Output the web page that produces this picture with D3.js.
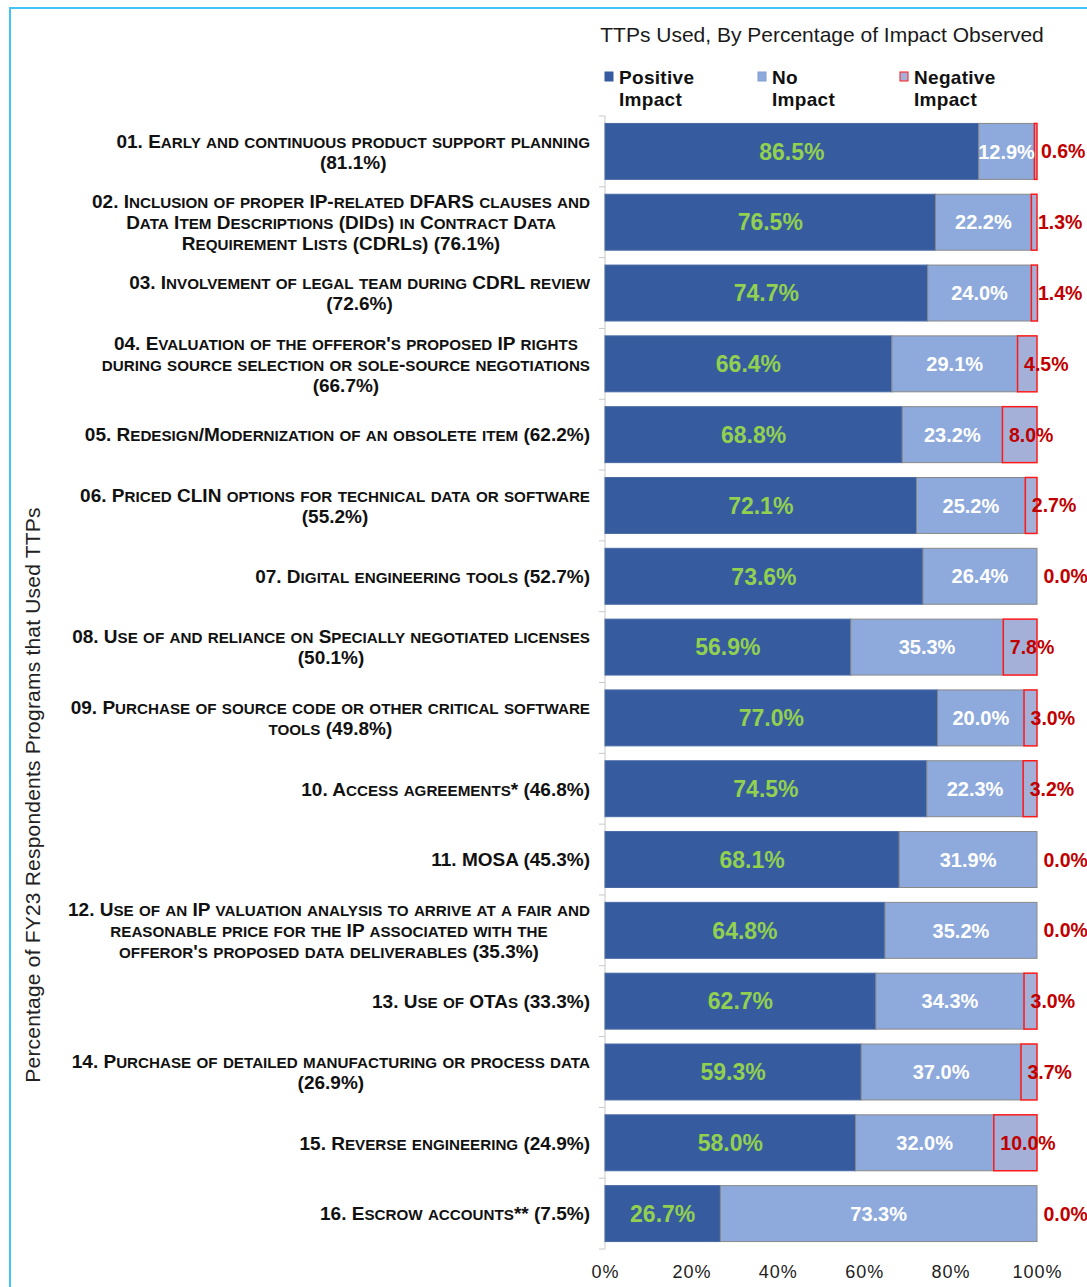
<!DOCTYPE html>
<html><head><meta charset="utf-8">
<script src="https://cdn.jsdelivr.net/npm/d3@7"></script>
<style>
html,body{margin:0;padding:0;background:#fff;}
svg{display:block;}
</style></head>
<body>
<svg id="chart" width="1087" height="1287"></svg>
<script>
const categories = [
  ["01. Early and continuous product support planning", "(81.1%)"],
  ["02. Inclusion of proper IP-related DFARS clauses and", "Data Item Descriptions (DIDs) in Contract Data", "Requirement Lists (CDRLs) (76.1%)"],
  ["03. Involvement of legal team during CDRL review", "(72.6%)"],
  ["04. Evaluation of the offeror's proposed IP rights", "during source selection or sole-source negotiations", "(66.7%)"],
  ["05. Redesign/Modernization of an obsolete item (62.2%)"],
  ["06. Priced CLIN options for technical data or software", "(55.2%)"],
  ["07. Digital engineering tools (52.7%)"],
  ["08. Use of and reliance on Specially negotiated licenses", "(50.1%)"],
  ["09. Purchase of source code or other critical software", "tools (49.8%)"],
  ["10. Access agreements* (46.8%)"],
  ["11. MOSA (45.3%)"],
  ["12. Use of an IP valuation analysis to arrive at a fair and", "reasonable price for the IP associated with the", "offeror's proposed data deliverables (35.3%)"],
  ["13. Use of OTAs (33.3%)"],
  ["14. Purchase of detailed manufacturing or process data", "(26.9%)"],
  ["15. Reverse engineering (24.9%)"],
  ["16. Escrow accounts** (7.5%)"]
];
const positiveImpact = [86.5, 76.5, 74.7, 66.4, 68.8, 72.1, 73.6, 56.9, 77.0, 74.5, 68.1, 64.8, 62.7, 59.3, 58.0, 26.7];
const noImpact       = [12.9, 22.2, 24.0, 29.1, 23.2, 25.2, 26.4, 35.3, 20.0, 22.3, 31.9, 35.2, 34.3, 37.0, 32.0, 73.3];
const negativeImpact = [0.6, 1.3, 1.4, 4.5, 8.0, 2.7, 0.0, 7.8, 3.0, 3.2, 0.0, 0.0, 3.0, 3.7, 10.0, 0.0];
const xTicks = [0, 20, 40, 60, 80, 100];
const seriesNames = [["Positive", "Impact"], ["No", "Impact"], ["Negative", "Impact"]];
const chartTitle = "TTPs Used, By Percentage of Impact Observed";
const yTitle = "Percentage of FY23 Respondents Programs that Used TTPs";

const svg = d3.select("#chart");
const C = {pos:"#365c9f", no:"#8eaadc", neg:"#a5b0d8", red:"#ff1a1a", green:"#92d050", dred:"#c00000"};
const sans = "'Liberation Sans', Arial, sans-serif";

// frame
svg.append("rect").attr("x",10).attr("y",8).attr("width",1200).attr("height",1400)
  .attr("fill","none").attr("stroke","#45c3f2").attr("stroke-width",2);

const x = d3.scaleLinear().domain([0,100]).range([605,1037]);
const idx = d3.range(categories.length);
const y = d3.scaleBand().domain(idx).range([116,1249]).paddingInner(0.21).paddingOuter(0.105);

// y axis line and ticks at band boundaries
const step = y.step();
svg.append("line").attr("x1",605).attr("x2",605).attr("y1",116).attr("y2",1249)
  .attr("stroke","#c8c8c8").attr("stroke-width",1);
d3.range(categories.length+1).forEach(k=>{
  const yy = 116 + k*step;
  svg.append("line").attr("x1",599).attr("x2",605).attr("y1",yy).attr("y2",yy)
    .attr("stroke","#c8c8c8").attr("stroke-width",1);
});

// bars
const g = svg.append("g");
idx.forEach(i=>{
  const p = positiveImpact[i], n = noImpact[i], ng = negativeImpact[i];
  const y0 = y(i), h = y.bandwidth(), cy = y0 + h/2;
  g.append("rect").attr("x",x(0)).attr("y",y0).attr("width",x(p)-x(0)).attr("height",h)
    .attr("fill",C.pos).attr("stroke","#4a6aa5").attr("stroke-width",1);
  g.append("rect").attr("x",x(p)).attr("y",y0).attr("width",x(p+n)-x(p)).attr("height",h)
    .attr("fill",C.no).attr("stroke","#888888").attr("stroke-width",1);
  if (ng > 0) {
    g.append("rect").attr("x",x(p+n)).attr("y",y0).attr("width",x(p+n+ng)-x(p+n)).attr("height",h)
      .attr("fill",C.neg).attr("stroke",C.red).attr("stroke-width",1.5);
  }
  g.append("text").attr("x",(x(0)+x(p))/2).attr("y",cy).attr("dy","0.36em")
    .attr("text-anchor","middle").attr("font-family",sans).attr("font-weight","bold")
    .attr("font-size",23).attr("fill",C.green).text(p.toFixed(1)+"%");
  g.append("text").attr("x",(x(p)+x(p+n))/2).attr("y",cy).attr("dy","0.36em")
    .attr("text-anchor","middle").attr("font-family",sans).attr("font-weight","bold")
    .attr("font-size",20).attr("fill","#ffffff").text(n.toFixed(1)+"%");
  g.append("text").attr("x",x(p+n)+6.5).attr("y",cy).attr("dy","0.36em")
    .attr("text-anchor","start").attr("font-family",sans).attr("font-weight","bold")
    .attr("font-size",19.5).attr("fill",C.dred).text(ng.toFixed(1)+"%");
});

// category labels with manual small caps (centered block, right edge at 590)
const FS = 19, SC = 0.8;
idx.forEach(i=>{
  const lines = categories[i];
  const lh = 21;
  const cy = y(i) + y.bandwidth()/2;
  const tg = svg.append("g");
  const texts = lines.map((ln,j)=>{
    const t = tg.append("text")
      .attr("y", cy + (j - (lines.length-1)/2)*lh).attr("dy","0.36em")
      .attr("text-anchor","middle").attr("font-family",sans).attr("font-weight","bold")
      .attr("font-size",FS).attr("fill","#111");
    const parts = ln.match(/[a-z]+|[^a-z]+/g);
    parts.forEach(pt=>{
      if (/^[a-z]+$/.test(pt)) t.append("tspan").attr("font-size",FS*SC).text(pt.toUpperCase());
      else t.append("tspan").text(pt);
    });
    return t;
  });
  const maxW = d3.max(texts, t=>t.node().getComputedTextLength());
  texts.forEach(t=>t.attr("x", 590 - maxW/2));
});

// x axis
const xa = svg.append("g").attr("transform","translate(0,1265)")
  .call(d3.axisBottom(x).tickValues(xTicks).tickSize(0).tickFormat(d=>d+"%"));
xa.select(".domain").remove();
xa.selectAll("text").attr("font-family",sans)
  .attr("font-size",18).attr("fill","#222").attr("dy","0.71em").attr("y",0)
  .style("letter-spacing","1px");

// title
svg.append("text").attr("x",822).attr("y",34).attr("dy","0.36em").attr("text-anchor","middle")
  .attr("font-family",sans).attr("font-size",21).attr("fill","#1a1a1a")
  .text(chartTitle);

// legend
const legX = [605, 758, 900];
const legFill = [C.pos, C.no, C.neg];
const legStroke = [C.pos, "#7f9fd0", C.red];
seriesNames.forEach((nm,i)=>{
  svg.append("rect").attr("x",legX[i]).attr("y",72).attr("width",8).attr("height",9)
    .attr("fill",legFill[i]).attr("stroke",legStroke[i]).attr("stroke-width",1);
  nm.forEach((w,j)=>{
    svg.append("text").attr("x",legX[i]+14).attr("y",77 + j*22).attr("dy","0.36em")
      .attr("font-family",sans).attr("font-weight","bold")
      .attr("font-size",19).attr("fill","#111").style("letter-spacing","0.3px").text(w);
  });
});

// y title
svg.append("text").attr("transform","translate(32,795) rotate(-90)").attr("dy","0.36em")
  .attr("text-anchor","middle").attr("font-family",sans)
  .attr("font-size",21).attr("fill","#222").style("letter-spacing","0.2px").text(yTitle);
</script>
</body></html>
